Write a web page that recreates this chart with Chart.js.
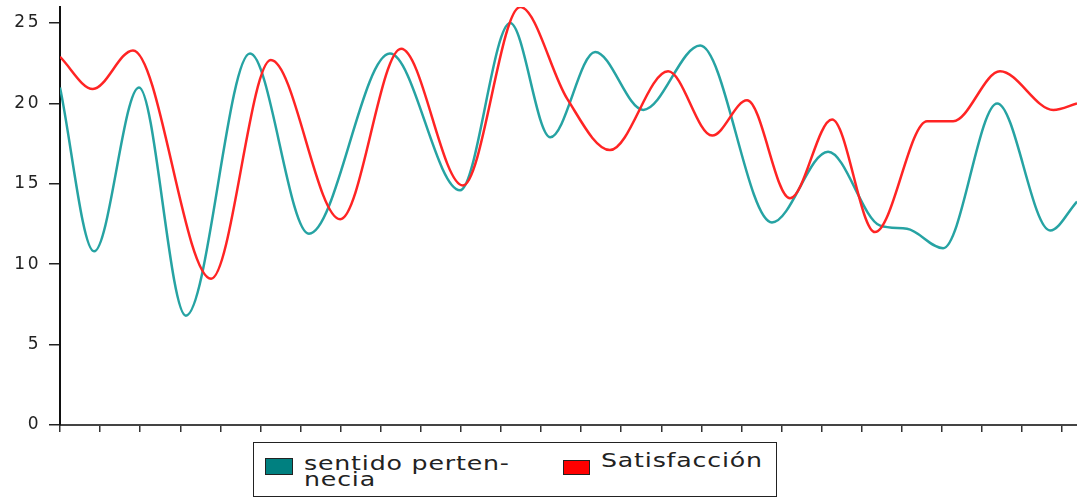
<!DOCTYPE html>
<html>
<head>
<meta charset="utf-8">
<script src="https://cdn.jsdelivr.net/npm/chart.js@4/dist/chart.umd.min.js"></script>
<style>
  body { margin: 0; background: #fff; }
  #wrap { position: relative; width: 1077px; height: 499px; }
  #leyenda {
    position: absolute; left: 253px; top: 442px; width: 522px; height: 53px;
    border: 1.5px solid #222; background: #fff;
    font-family: "DejaVu Sans", sans-serif; font-size: 19px; color: #222;
    letter-spacing: 0.6px; line-height: 16px;
  }
  .caja { position: absolute; border: 1px solid #222; }
  .txt { position: absolute; white-space: nowrap; transform: scaleX(1.33); transform-origin: left top; }
</style>
</head>
<body>
<div id="wrap">
  <canvas id="grafico" width="1077" height="499"></canvas>
  <div id="leyenda">
    <div class="caja" style="left:11px; top:15px; width:26px; height:15px; background:#008080;"></div>
    <div class="txt" style="left:50px; top:12px;">sentido perten-<br>necia</div>
    <div class="caja" style="left:309px; top:17px; width:25px; height:13px; background:#ff0000;"></div>
    <div class="txt" style="left:347px; top:9px;">Satisfacción</div>
  </div>
</div>
<script>
// Datos (x = posición sobre el eje, y = valor)
const etiquetasY = [0, 5, 10, 15, 20, 25];
const marcasX = [0, 1, 2, 3, 4, 5, 6, 7, 8, 9, 10, 11, 12, 13, 14, 15, 16, 17, 18, 19, 20, 21, 22, 23, 24, 25];

const pertenenciaX = [0, 0.85, 1.97, 3.14, 4.74, 6.21, 8.23, 9.98, 11.23, 12.23, 13.35, 14.55, 15.97, 17.76, 19.16, 20.46, 21.13, 22.03, 23.38, 24.70, 25.37];
const pertenenciaY = [21.0, 10.8, 21.0, 6.8, 23.1, 11.9, 23.1, 14.6, 25.0, 17.9, 23.2, 19.6, 23.6, 12.6, 17.0, 12.4, 12.2, 11.0, 20.0, 12.1, 13.9];

const satisfaccionX = [0, 0.82, 1.82, 3.77, 5.26, 6.99, 8.51, 10.05, 11.48, 12.65, 13.72, 15.17, 16.27, 17.14, 18.21, 19.26, 20.33, 21.63, 22.28, 23.45, 24.78, 25.37];
const satisfaccionY = [22.9, 20.9, 23.3, 9.1, 22.7, 12.8, 23.4, 14.9, 26.0, 20.3, 17.1, 22.0, 18.0, 20.2, 14.1, 19.0, 12.0, 18.9, 18.9, 22.0, 19.6, 20.0];

function puntos(xs, ys) {
  return xs.map((x, i) => ({ x: x, y: ys[i] }));
}

// letras un poco más anchas en las etiquetas del eje
const espaciado = {
  id: 'espaciado',
  beforeDraw(chart) { chart.ctx.letterSpacing = '2.5px'; },
  afterDraw(chart) { chart.ctx.letterSpacing = '0px'; }
};

const ctx = document.getElementById('grafico').getContext('2d');
const grafico = new Chart(ctx, {
  type: 'line',
  data: {
    datasets: [
      {
        label: 'sentido pertenecia',
        data: puntos(pertenenciaX, pertenenciaY),
        borderColor: '#26a3a3',
        borderWidth: 2.5,
        cubicInterpolationMode: 'monotone',
        pointRadius: 0,
        fill: false,
        order: 1
      },
      {
        label: 'Satisfacción',
        data: puntos(satisfaccionX, satisfaccionY),
        borderColor: '#ff2424',
        borderWidth: 2.5,
        cubicInterpolationMode: 'monotone',
        pointRadius: 0,
        fill: false,
        order: 0
      }
    ]
  },
  options: {
    responsive: false,
    animation: false,
    layout: { padding: { top: 7, left: 0, right: 0, bottom: 0 } },
    plugins: { legend: { display: false }, tooltip: { enabled: false } },
    scales: {
      x: {
        type: 'linear',
        min: 0,
        max: 25.37,
        afterBuildTicks: (s) => { s.ticks = marcasX.map(v => ({ value: v })); },
        afterFit: (s) => { s.height = 74; s.paddingLeft = 0; s.paddingRight = 0; },
        ticks: { display: false },
        grid: { drawOnChartArea: false, tickLength: 7, color: '#333', lineWidth: 1.5 },
        border: { color: '#444', width: 2 }
      },
      y: {
        min: 0,
        max: 26,
        afterBuildTicks: (s) => { s.ticks = etiquetasY.map(v => ({ value: v })); },
        afterFit: (s) => { s.width = 60; s.paddingTop = 0; s.paddingBottom = 0; },
        ticks: { color: '#222', padding: 8, font: { family: 'DejaVu Sans', size: 17 } },
        grid: { drawOnChartArea: false, tickLength: 11, color: '#222', lineWidth: 1.5 },
        border: { color: '#111', width: 2 }
      }
    }
  },
  plugins: [espaciado]
});
</script>
</body>
</html>
